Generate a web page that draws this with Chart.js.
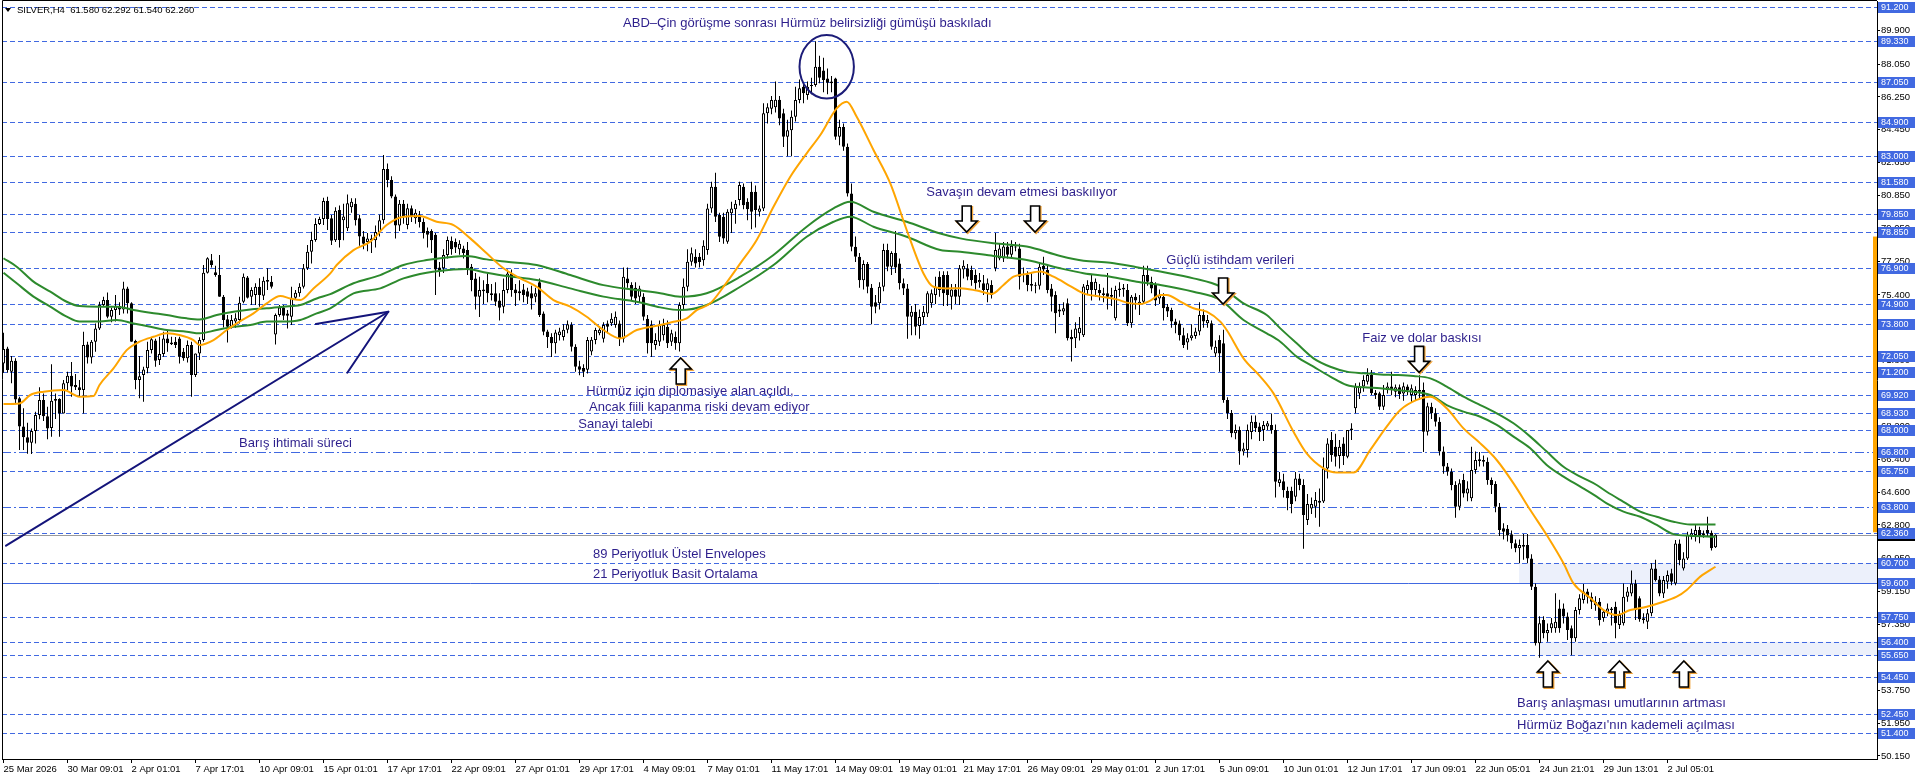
<!DOCTYPE html>
<html>
<head>
<meta charset="utf-8">
<script src="https://cdn.jsdelivr.net/npm/chart.js"></script>
<style>
  html, body { margin: 0; padding: 0; background: #fff; }
  #wrap { width: 1916px; height: 780px; }
</style>
</head>
<body>
<div id="wrap"><canvas id="silverChart" width="1916" height="780"></canvas></div>
<script>
// time axis labels, one every 16 H4 bars
const xLabels = ['25 Mar 2026', '30 Mar 09:01', '2 Apr 01:01', '7 Apr 17:01', '10 Apr 09:01', '15 Apr 01:01',
  '17 Apr 17:01', '22 Apr 09:01', '27 Apr 01:01', '29 Apr 17:01', '4 May 09:01', '7 May 01:01', '11 May 17:01',
  '14 May 09:01', '19 May 01:01', '21 May 17:01', '26 May 09:01', '29 May 01:01', '2 Jun 17:01', '5 Jun 09:01',
  '10 Jun 01:01', '12 Jun 17:01', '17 Jun 09:01', '22 Jun 05:01', '24 Jun 21:01', '29 Jun 13:01', '2 Jul 05:01'];

const yTicks = [89.9, 88.05, 86.25, 84.45, 82.65, 80.85, 79.05, 77.25, 75.4, 73.6, 71.8, 70.0, 68.2, 66.4,
  64.6, 62.8, 60.95, 59.15, 57.35, 55.55, 53.75, 51.95, 50.15];

// horizontal price levels drawn on the chart
const levels = [91.2, 89.33, 87.05, 84.9, 83.0, 81.58, 79.85, 78.85, 76.9, 74.9, 73.8, 72.05, 71.2, 69.92,
  68.93, 68.0, 66.8, 65.75, 63.8, 62.36, 60.7, 59.6, 57.75, 56.4, 55.65, 54.45, 52.45, 51.4];

// [open, high, low, close] per H4 bar, first bar 25 Mar 17:01
const candles = [
  [71.65,73.33,71.14,72.44],[72.47,72.57,71.14,71.29],[71.20,72.05,70.56,71.80],[71.80,71.93,69.46,69.68],[69.74,69.83,66.91,68.20],[68.20,69.20,66.91,67.60],[67.60,68.40,66.70,67.30],[67.31,68.09,66.69,67.95],
  [67.95,69.00,67.27,68.82],[68.82,70.34,68.59,69.65],[69.65,70.00,68.50,68.75],[68.75,69.28,67.49,68.09],[68.11,71.60,67.64,69.61],[69.61,70.00,68.60,69.70],[69.70,69.74,67.64,68.91],[68.91,70.74,68.91,70.56],
  [70.56,71.20,70.19,70.98],[70.98,71.73,69.83,70.38],[70.47,71.07,70.19,70.34],[70.34,70.74,69.83,70.19],[70.19,73.39,68.91,72.66],[72.69,72.84,71.65,71.98],[71.98,72.93,71.65,72.84],[72.84,73.84,72.29,73.57],
  [73.57,75.03,73.48,74.85],[74.85,75.30,74.76,75.12],[75.12,75.54,74.12,74.21],[74.21,74.70,73.90,74.58],[74.58,75.40,73.94,74.79],[74.79,75.00,74.30,74.60],[74.60,76.13,74.39,75.76],[75.76,75.85,74.39,74.94],
  [74.94,75.00,72.84,72.84],[72.88,72.95,70.23,70.74],[70.74,72.05,69.74,70.95],[71.01,71.47,69.55,71.32],[71.38,72.84,71.11,72.38],[72.38,73.08,72.20,72.97],[72.90,73.00,71.47,71.80],[71.84,73.11,71.56,72.16],
  [72.16,73.39,72.02,73.02],[73.02,73.48,72.29,72.75],[72.80,73.11,72.66,72.70],[72.84,73.10,72.50,72.66],[73.02,73.11,71.65,72.02],[72.29,72.50,71.80,71.93],[71.93,72.90,71.70,72.66],[72.66,72.84,69.83,71.01],
  [71.01,72.20,70.90,72.20],[72.20,73.08,71.84,72.93],[72.93,77.04,72.84,76.62],[76.62,77.46,76.58,77.41],[77.30,77.64,76.90,77.04],[76.64,77.00,76.40,76.49],[76.49,77.59,75.30,75.30],[75.30,75.40,73.62,74.03],
  [74.07,74.30,72.79,73.66],[73.66,74.30,73.57,74.03],[73.94,74.40,73.60,74.12],[74.03,75.30,73.84,74.98],[75.03,76.58,74.94,76.40],[76.36,76.44,75.21,75.25],[75.30,75.82,74.85,75.67],[75.40,76.04,74.85,75.85],
  [75.85,76.31,74.76,75.40],[75.36,76.40,75.12,76.18],[76.22,76.86,75.67,76.13],[76.13,76.44,75.76,75.85],[73.24,74.39,72.69,74.30],[74.30,74.85,74.21,74.72],[74.72,74.85,74.03,74.26],[74.39,74.58,73.57,74.26],
  [74.21,75.85,73.75,75.25],[75.25,75.67,75.12,75.52],[75.49,76.04,75.30,75.85],[75.85,77.09,75.76,76.86],[76.86,78.14,76.77,77.77],[77.77,78.87,77.13,78.41],[78.41,79.60,78.32,79.29],[79.29,79.69,79.23,79.56],
  [79.56,80.73,79.23,80.55],[80.55,80.78,78.96,79.56],[79.60,79.78,78.14,78.37],[78.40,80.20,78.30,80.02],[80.05,80.30,78.00,78.41],[79.50,80.40,78.40,79.70],[79.05,80.90,78.90,80.42],[80.20,80.70,79.90,80.50],
  [80.40,80.70,79.20,79.50],[79.60,79.80,78.10,78.60],[78.60,78.90,77.90,78.20],[78.30,78.80,77.80,78.50],[78.50,78.70,77.70,78.40],[78.40,79.20,78.00,78.85],[78.85,79.80,78.60,79.50],[79.50,83.07,79.30,82.30],
  [82.30,82.60,81.30,81.70],[81.70,81.90,80.70,80.80],[80.80,80.90,78.50,79.20],[79.20,80.60,78.90,80.40],[80.40,80.60,79.30,79.70],[79.23,80.40,79.00,80.15],[80.15,80.30,79.40,79.69],[79.60,80.10,79.30,79.90],
  [79.80,80.00,79.10,79.40],[79.40,79.60,78.50,78.80],[78.90,79.10,78.00,78.70],[78.90,79.00,77.70,78.40],[78.70,78.80,75.40,76.80],[76.90,77.20,76.40,76.70],[76.86,77.90,76.60,77.59],[77.59,78.60,77.40,78.41],
  [78.37,78.60,77.60,77.90],[78.30,78.50,77.70,78.00],[77.90,78.40,77.60,78.20],[77.95,78.10,77.40,77.70],[77.86,78.30,76.50,76.86],[76.95,77.10,75.60,76.22],[76.30,76.60,74.60,75.30],[75.30,76.40,74.20,75.67],
  [75.60,76.20,74.90,75.70],[76.00,76.60,75.00,75.50],[75.50,76.00,75.10,75.40],[75.50,76.10,74.80,75.03],[75.10,75.50,74.00,74.70],[74.76,76.30,74.40,75.67],[75.67,76.80,75.50,76.58],[76.58,76.80,75.30,75.67],
  [75.70,76.00,74.80,75.50],[75.50,76.20,75.10,75.60],[75.70,76.00,75.00,75.40],[75.60,75.80,74.90,75.30],[75.50,75.90,74.60,75.20],[75.30,75.80,75.00,75.50],[76.10,76.30,74.20,74.30],[74.39,74.50,73.20,73.39],
  [73.40,73.50,72.50,73.10],[73.10,73.30,72.00,72.75],[72.75,73.50,72.20,73.34],[73.20,73.60,72.90,73.40],[73.10,73.80,72.90,73.50],[73.50,74.00,73.30,73.80],[73.75,73.90,72.30,72.57],[72.57,72.70,71.20,71.47],
  [71.50,71.80,71.00,71.30],[71.40,71.60,70.90,71.20],[71.30,73.10,71.10,72.93],[72.30,73.10,72.10,72.95],[72.93,73.60,72.70,73.48],[73.30,73.70,73.20,73.50],[73.00,73.90,72.80,73.75],[73.84,74.00,73.30,73.66],
  [73.85,74.40,73.70,74.10],[73.75,74.50,73.60,74.21],[73.84,74.00,72.60,73.00],[73.00,76.90,72.80,76.40],[76.30,76.90,75.80,76.04],[75.95,76.10,75.10,75.30],[75.80,76.10,74.90,75.20],[75.30,75.90,75.00,75.76],
  [75.30,75.50,74.00,74.21],[74.10,74.30,72.20,72.75],[73.75,74.00,72.00,72.75],[72.66,73.30,72.40,72.93],[72.84,74.00,72.60,73.75],[73.20,74.10,72.90,73.75],[73.66,74.00,72.50,72.75],[72.84,73.50,72.60,73.30],
  [73.10,73.40,72.40,72.75],[72.75,75.00,72.30,74.85],[74.85,76.30,74.60,75.85],[75.85,77.90,75.60,77.22],[77.22,78.00,77.00,77.68],[77.50,77.90,76.90,77.13],[77.50,77.70,76.90,77.20],[77.30,78.40,77.00,78.10],
  [77.86,80.40,77.60,80.14],[80.14,81.60,79.90,81.33],[81.33,82.10,79.40,79.69],[79.78,79.90,78.30,78.59],[79.69,79.90,78.20,78.50],[78.32,80.10,78.20,79.96],[79.87,80.50,78.80,80.14],[80.10,80.60,79.30,80.40],
  [80.60,81.60,80.30,81.42],[81.33,81.50,80.10,80.32],[80.50,80.70,79.50,80.10],[81.06,81.60,79.00,79.96],[81.06,81.40,79.10,80.05],[79.96,80.30,79.70,80.14],[80.14,85.90,80.00,85.35],[85.35,85.90,84.80,85.68],
  [85.60,86.30,85.30,86.08],[85.68,87.10,85.40,86.10],[86.10,86.30,84.70,85.07],[85.35,85.60,83.50,84.07],[84.07,85.00,83.00,84.43],[84.43,85.50,83.00,85.16],[85.16,86.80,84.90,86.08],[86.08,87.20,85.90,86.72],
  [86.80,87.00,85.90,86.45],[86.35,87.10,86.10,86.80],[86.85,87.30,86.40,86.90],[86.90,89.30,86.80,87.90],[87.90,88.50,87.00,87.30],[87.70,88.40,86.50,87.17],[87.26,87.80,86.40,87.03],[87.00,87.40,86.50,87.10],
  [87.26,87.30,83.90,84.07],[84.07,85.00,83.60,84.60],[84.60,84.80,83.30,83.52],[83.52,83.70,80.80,80.96],[80.96,81.50,77.80,78.04],[78.04,78.60,77.20,77.50],[77.50,77.70,75.80,76.20],[76.20,77.30,75.70,77.10],
  [77.10,77.20,75.50,75.85],[75.80,76.00,73.80,74.75],[75.00,75.40,74.40,74.75],[74.94,76.10,74.60,75.85],[75.85,78.20,75.60,77.86],[77.86,78.20,76.70,76.95],[76.95,77.80,76.50,77.70],[77.70,78.90,76.60,76.90],
  [77.13,77.40,75.70,76.04],[76.04,76.30,75.40,75.76],[75.76,76.00,73.00,74.21],[74.21,74.80,73.20,74.48],[74.48,74.90,73.20,73.66],[73.70,74.60,73.00,74.20],[74.20,74.80,73.80,74.48],[74.39,75.60,74.20,75.49],
  [74.94,75.70,74.70,75.49],[75.40,76.40,74.90,75.85],[76.40,76.70,75.30,75.67],[76.50,76.70,74.80,75.49],[76.50,76.70,74.80,75.40],[75.30,76.00,74.60,75.70],[75.70,76.00,74.90,75.30],[75.30,77.04,74.85,76.86],
  [76.80,77.30,76.30,77.00],[76.86,77.10,76.20,76.40],[76.77,77.00,75.90,76.22],[76.50,76.80,75.70,76.04],[76.10,76.60,75.80,76.22],[76.04,76.50,75.40,75.67],[75.67,76.30,75.00,76.04],[75.95,76.20,75.20,75.40],
  [76.86,78.80,76.70,77.86],[77.40,78.20,77.30,77.95],[77.40,78.30,77.20,78.05],[78.05,78.30,77.40,77.60],[77.60,78.40,77.40,78.10],[78.00,78.30,77.80,78.05],[77.95,78.20,75.70,76.40],[76.50,76.90,76.10,76.50],
  [76.50,76.70,75.60,75.95],[76.00,76.60,75.60,75.90],[75.90,76.10,75.50,75.90],[75.90,77.20,75.70,76.95],[77.00,77.50,76.50,76.80],[76.77,77.00,75.50,75.67],[75.76,76.00,74.50,75.30],[75.40,75.60,73.30,74.40],
  [74.60,74.90,74.20,74.50],[74.50,75.00,74.30,74.67],[74.94,75.20,72.90,73.03],[73.10,73.50,71.75,72.97],[73.03,73.90,72.50,73.57],[73.30,74.20,72.90,73.60],[73.20,76.00,73.10,75.86],[75.67,76.20,75.40,75.95],
  [76.13,76.50,75.10,75.67],[75.67,76.30,75.30,76.13],[75.67,76.00,75.10,75.50],[75.50,75.80,75.00,75.40],[75.50,76.60,74.60,75.30],[75.30,75.80,74.80,75.40],[74.12,75.90,74.00,75.67],[75.67,76.10,75.30,75.76],
  [75.70,76.00,75.30,75.80],[75.67,76.00,73.70,73.85],[73.85,75.40,73.60,75.30],[75.30,75.50,74.60,75.10],[74.85,75.40,74.30,75.03],[75.03,77.00,74.90,76.50],[76.50,77.00,75.90,76.13],[76.13,76.40,75.50,75.76],
  [75.95,76.10,74.80,75.10],[75.20,75.70,74.90,75.40],[75.30,75.50,74.00,74.67],[74.76,74.90,74.20,74.50],[74.58,74.70,73.60,73.94],[73.94,74.10,73.30,73.75],[73.84,74.00,72.90,73.20],[73.20,73.60,72.50,72.66],
  [72.79,73.30,72.40,73.03],[73.03,73.80,72.90,73.20],[73.15,73.60,73.00,73.40],[73.40,75.00,73.20,74.30],[74.30,74.60,73.60,73.94],[73.85,74.30,73.60,74.03],[73.85,74.00,72.40,72.57],[72.20,72.90,72.00,72.57],
  [72.93,73.20,71.20,72.20],[72.75,73.50,69.50,69.65],[69.65,69.80,68.60,68.93],[68.93,69.10,67.60,67.82],[67.82,68.30,67.50,68.00],[68.00,68.20,66.10,66.82],[66.82,67.30,66.60,66.99],[66.91,68.30,66.50,68.00],
  [67.90,68.80,67.50,68.46],[68.46,68.80,67.90,68.10],[68.20,68.40,67.40,67.90],[68.00,68.50,67.40,68.28],[68.20,68.50,68.00,68.37],[68.28,68.90,67.80,68.00],[68.00,68.30,64.30,65.17],[65.10,65.70,64.90,65.30],
  [65.20,65.60,64.30,64.70],[64.68,64.90,63.60,64.26],[64.68,64.90,63.44,63.95],[64.35,65.70,64.10,65.35],[65.35,65.60,64.70,64.99],[64.99,65.30,61.50,63.35],[63.07,64.50,62.80,63.95],[63.70,64.30,63.40,63.95],
  [63.80,64.60,63.20,64.17],[64.02,64.80,62.70,64.13],[64.08,66.50,64.00,65.90],[65.90,67.55,65.35,67.27],[67.45,67.90,66.27,66.63],[67.09,67.80,66.00,66.54],[66.58,67.45,65.90,67.09],[67.27,67.60,66.09,66.58],
  [66.54,68.00,66.45,68.00],[68.00,68.37,67.45,68.09],[69.19,70.56,68.92,70.38],[70.00,70.60,69.70,70.38],[70.38,71.00,70.10,70.74],[70.65,71.38,70.50,71.02],[71.02,71.29,69.92,70.01],[70.05,70.20,69.70,69.92],
  [70.01,70.10,69.10,69.28],[69.28,70.47,69.10,69.92],[70.20,70.60,70.00,70.38],[70.38,71.20,69.90,70.20],[70.10,70.50,69.80,70.34],[70.34,70.50,69.70,69.98],[70.00,70.60,69.60,70.40],[70.38,70.50,69.90,70.20],
  [69.92,70.50,69.50,70.29],[69.92,70.40,69.60,70.20],[70.10,71.00,69.70,70.20],[70.20,70.60,66.80,67.91],[67.91,69.50,67.70,69.30],[69.28,69.50,68.60,68.92],[68.92,69.20,68.20,68.46],[68.46,68.70,66.60,66.82],
  [66.82,67.10,65.60,66.00],[66.00,66.20,65.50,65.72],[65.72,65.90,64.70,64.99],[64.99,65.20,63.20,63.80],[63.80,65.30,63.60,65.08],[65.26,65.60,64.30,64.53],[64.53,65.20,64.10,64.80],[64.26,67.09,64.10,65.81],
  [65.81,66.82,65.60,66.36],[66.30,66.80,66.00,66.40],[66.36,66.60,66.00,66.27],[66.27,66.50,65.00,65.26],[65.26,65.40,64.50,64.99],[65.04,65.20,63.50,63.80],[63.80,64.00,62.20,62.53],[62.62,62.90,62.00,62.43],
  [62.60,62.80,61.90,62.25],[62.29,62.50,61.50,61.80],[61.80,62.00,61.30,61.52],[61.52,62.00,60.70,61.70],[61.70,62.30,60.90,61.61],[61.70,62.30,60.70,60.97],[60.97,61.20,59.24,59.42],[59.42,59.60,56.20,56.32],
  [56.32,57.80,55.53,57.41],[57.60,57.80,56.60,56.87],[56.87,57.40,56.40,57.05],[57.14,57.70,56.90,57.41],[57.14,59.06,56.90,57.50],[58.23,58.70,56.90,57.14],[58.23,58.50,57.40,57.78],[57.78,58.00,56.50,57.05],
  [57.14,57.30,55.67,56.59],[56.59,58.30,56.40,58.14],[58.14,59.00,57.90,58.78],[58.69,59.56,58.50,59.15],[59.15,59.30,58.50,58.87],[58.87,59.10,58.20,58.60],[58.40,58.90,58.10,58.60],[58.60,58.80,57.30,57.60],
  [57.70,58.20,57.50,58.05],[58.05,58.50,57.80,58.23],[58.14,58.30,57.30,58.23],[58.32,58.60,56.60,57.41],[57.32,58.10,57.10,57.87],[57.41,59.60,57.30,58.87],[58.87,59.40,58.60,59.15],[59.05,60.30,58.90,59.60],
  [59.60,59.80,57.60,58.14],[58.78,58.90,57.50,57.63],[57.69,57.96,57.40,57.60],[57.50,58.20,57.10,57.96],[57.96,60.70,57.80,60.42],[60.42,60.90,59.70,59.78],[59.82,60.00,58.90,59.05],[59.05,60.00,58.80,59.78],
  [59.69,60.30,59.30,60.06],[60.15,60.40,59.50,59.69],[59.60,61.98,59.50,61.79],[61.79,62.00,60.60,60.88],[60.42,61.30,60.30,60.97],[60.97,62.43,60.88,62.25],[62.16,62.60,62.00,62.34],[62.25,62.80,61.90,62.52],
  [62.52,62.70,61.80,62.16],[62.25,62.50,62.10,62.34],[62.52,63.25,62.20,62.34],[62.38,62.50,61.40,61.52],[61.58,62.292,61.54,62.26]
];

// indicator lines: [bar index, price]
const sma21 = [[0,69.43],[4,69.46],[6.7,69.92],[10,70.1],[15,70.19],[19,69.83],[22.5,69.86],[24,70.47],[27.5,71.38],
  [30.8,72.38],[34,72.84],[37.5,73.11],[40.8,73.3],[44,73.21],[47.5,72.93],[49,72.66],[52.5,72.93],[55.8,73.48],
  [59,73.94],[62.5,74.39],[65.8,74.94],[69.2,75.34],[71.7,75.21],[74.2,75.12],[77.5,75.76],[81.7,76.58],[83.3,77.04],
  [87.5,77.86],[91.7,78.32],[95.8,79.23],[100,79.69],[104,79.72],[108.3,79.41],[112.5,79.23],[116.7,78.5],[120.8,77.68],
  [125,76.86],[129.2,76.31],[133.3,75.85],[137.5,75.12],[141.7,74.76],[145.8,74.21],[150,73.48],[154.2,73.02],
  [158.3,73.48],[164.2,73.75],[167.5,73.93],[170.8,74.12],[173.3,74.57],[176.7,74.94],[180,75.85],[184.2,77.13],
  [188.3,78.41],[192.5,80.23],[196.7,81.88],[200.8,83.16],[204.2,84.16],[208.3,85.62],[210.8,85.99],[213.3,85.16],
  [217.5,83.34],[221.7,81.51],[225.8,78.96],[230,76.58],[232.5,75.85],[235.8,75.76],[239.2,75.77],[243.3,75.64],
  [247.1,75.46],[250,75.95],[252.5,76.4],[255.8,76.55],[259.2,76.68],[262.5,76.4],[266.7,75.89],[270,75.49],
  [274.2,75.31],[278.3,75.16],[280.8,74.98],[284.2,74.91],[286.7,75.09],[289.2,75.4],[290.8,75.4],[294.2,75.04],
  [297.5,74.67],[300.8,74.49],[304.2,73.94],[305.8,73.48],[310,71.93],[314.2,70.93],[317.5,70.01],[322.5,67.91],
  [325.8,66.72],[330,65.9],[333.3,65.67],[337.5,65.67],[341.7,66.91],[345.8,68.19],[349.2,69.1],[353.3,69.65],
  [356.7,69.83],[360.8,69.19],[365,68.09],[369.2,67.27],[373.3,66.36],[377.5,65.08],[381.7,63.62],[385.8,62.25],
  [390,60.7],[392.5,59.6],[396.7,58.8],[400,58.14],[403.3,57.87],[406.7,58.14],[410.8,58.32],[414.2,58.54],
  [418.3,58.87],[420.8,59.24],[424.2,59.97],[428,60.51]];

const envUpper = [[0,77.41],[3.3,76.95],[7.5,76.13],[11.7,75.58],[15.8,75.03],[19,74.79],[24,74.76],[28.3,74.76],
  [32.5,74.58],[36.7,74.43],[40.8,74.3],[45.8,74.12],[49,74.06],[53.3,74.3],[57.5,74.48],[61.7,74.61],[65.8,74.67],
  [70,74.76],[74.2,74.85],[78.3,75.21],[81.7,75.45],[87.5,76.04],[94.2,76.49],[100,77.04],[105.8,77.31],[112.5,77.5],
  [115.8,77.53],[120.8,77.35],[125.8,77.22],[133.3,77.04],[141.7,76.49],[150,75.94],[158.3,75.67],[164.2,75.49],
  [169.2,75.3],[175.8,75.49],[184.2,76.4],[192.5,77.59],[200.8,79.14],[207.5,80.14],[211.7,80.51],[217.5,79.96],
  [225.8,79.41],[234.2,78.77],[239.2,78.5],[247.5,78.23],[255.8,78.05],[264.2,77.54],[270,77.28],[276.7,77.17],
  [283.3,76.92],[289.2,76.68],[297.5,76.31],[304.2,75.86],[310,74.94],[315.8,74.3],[319.2,73.57],[323.3,72.75],
  [327.5,71.93],[331.7,71.47],[335.8,71.2],[340,71.11],[344.2,71.05],[348.3,71.02],[352.5,70.96],[356.7,70.83],
  [360.8,70.38],[365,69.83],[369.2,69.37],[373.3,68.92],[377.5,68.37],[381.7,67.64],[385.8,66.82],[390,65.99],
  [394.2,65.45],[398.3,64.99],[400.8,64.62],[405,64.07],[409.2,63.53],[413.3,63.25],[417.5,62.98],[421.7,62.83],[428,62.83]];

const envLower = [[0,76.62],[3.3,76.04],[7.5,75.31],[11.7,74.76],[15.8,74.21],[19,73.94],[24,73.94],[28.3,74.03],
  [32.5,73.84],[36.7,73.66],[40.8,73.48],[45.8,73.39],[49,73.3],[53.3,73.48],[57.5,73.66],[61.7,73.75],[65.8,73.94],
  [70,73.94],[74.2,74.03],[78.3,74.39],[81.7,74.67],[87.5,75.49],[94.2,75.76],[100,76.31],[105.8,76.62],[112.5,76.8],
  [115.8,76.82],[120.8,76.62],[125.8,76.44],[133.3,76.22],[141.7,75.76],[150,75.31],[158.3,75.03],[164.2,74.72],
  [169.2,74.57],[175.8,74.85],[184.2,75.85],[192.5,77.04],[200.8,78.59],[207.5,79.41],[211.7,79.69],[217.5,79.14],
  [225.8,78.59],[234.2,77.86],[239.2,77.77],[247.5,77.54],[255.8,77.32],[264.2,76.86],[270,76.59],[276.7,76.4],
  [283.3,76.13],[289.2,75.95],[297.5,75.58],[304.2,75.13],[310,74.03],[315.8,73.3],[319.2,72.84],[323.3,72.02],
  [327.5,71.47],[331.7,70.93],[335.8,70.47],[340,70.34],[344.2,70.29],[348.3,70.19],[352.5,70.1],[356.7,69.92],
  [360.8,69.37],[365,69.01],[369.2,68.73],[373.3,68.28],[377.5,67.64],[381.7,67.0],[385.8,66.09],[390,65.45],
  [394.2,64.9],[398.3,64.35],[400.8,63.98],[405,63.53],[409.2,63.25],[413.3,62.8],[417.5,62.3],[421.7,62.21],[428,62.16]];

// drawn objects, positioned in [bar index, price]
const zones = [[60.7, 59.6, 378.9], [56.4, 55.65, 384.1]]; // top, bottom, first bar
const trendLine = [[0.63, 61.67], [96.2, 74.48]];
const trendWings = [[78.1, 73.81], [85.95, 71.14]];
const circle = [205.8, 87.9, 6.8, 1.74]; // centre bar, centre price, radius bars, radius price
const arrowsDown = [[240.8, 78.85], [257.9, 78.85], [304.9, 74.905], [353.9, 71.16]];
const arrowsUp = [[169.3, 71.95], [386.1, 55.35], [404.0, 55.35], [420.1, 55.35]];
const rangeBar = [62.4, 78.6];
const notes = [
  ['ABD–Çin görüşme sonrası Hürmüz belirsizliği gümüşü baskıladı', 154.9, 90.30],
  ['Savaşın devam etmesi baskılıyor', 230.7, 81.04],
  ['Güçlü istihdam verileri', 290.7, 77.32],
  ['Faiz ve dolar baskısı', 339.7, 73.04],
  ['Hürmüz için diplomasiye alan açıldı,', 145.7, 70.14],
  ['Ancak fiili kapanma riski devam ediyor', 146.4, 69.26],
  ['Sanayi talebi', 143.7, 68.33],
  ['Barış ihtimali süreci', 58.9, 67.29],
  ['89 Periyotluk Üstel Envelopes', 147.4, 61.21],
  ['21 Periyotluk Basit Ortalama', 147.4, 60.11],
  ['Barış anlaşması umutlarının artması', 378.4, 53.05],
  ["Hürmüz Boğazı'nın kademeli açılması", 378.4, 51.84]
];

const AXIS_FONT = '9px "Liberation Sans", Arial, sans-serif';

function thumbArrow(ctx, cx, tipY, s) { // s = 1 points up, s = -1 points down
  const pts = [[0, 0], [10.5, 11], [4.5, 11], [4.5, 26], [-4.5, 26], [-4.5, 11], [-10.5, 11]];
  const path = (ox, oy) => {
    ctx.beginPath();
    pts.forEach(([dx, dy], k) => {
      const px = cx + dx + ox, py = tipY + s * dy + oy;
      if (k) ctx.lineTo(px, py); else ctx.moveTo(px, py);
    });
    ctx.closePath();
  };
  path(1, 1);
  ctx.strokeStyle = '#f0a33a'; ctx.lineWidth = 2; ctx.stroke();
  path(0, 0);
  ctx.fillStyle = '#fff'; ctx.fill();
  ctx.strokeStyle = '#000'; ctx.lineWidth = 1.6; ctx.stroke();
}

const drawings = {
  id: 'drawings',
  beforeDatasetsDraw(chart) {
    const { ctx, chartArea: a, scales: { x, y } } = chart;
    ctx.save();
    ctx.beginPath();
    ctx.rect(a.left, a.top, a.right - a.left, a.bottom - a.top);
    ctx.clip();
    ctx.fillStyle = '#ecf0fb';
    zones.forEach(([hi, lo, from]) => {
      const x0 = x.getPixelForValue(from), y0 = y.getPixelForValue(hi);
      ctx.fillRect(x0, y0, a.right - x0, y.getPixelForValue(lo) - y0);
    });
    ctx.lineWidth = 1;
    ctx.strokeStyle = '#4169e1';
    levels.forEach(v => {
      const py = Math.round(y.getPixelForValue(v)) + 0.5;
      ctx.setLineDash(v === 59.6 ? [] : (v === 66.8 || v === 63.8) ? [9, 3, 2, 3] : [5, 3]);
      ctx.beginPath(); ctx.moveTo(a.left, py); ctx.lineTo(a.right, py); ctx.stroke();
    });
    ctx.setLineDash([]);
    const bid = Math.round(y.getPixelForValue(candles[candles.length - 1][3])) + 0.5;
    ctx.strokeStyle = '#9a9a9a';
    ctx.beginPath(); ctx.moveTo(a.left, bid); ctx.lineTo(a.right, bid); ctx.stroke();
    ctx.restore();
  },
  afterDatasetsDraw(chart) {
    const { ctx, chartArea: a, scales: { x, y } } = chart;
    const px = i => x.getPixelForValue(i), py = p => y.getPixelForValue(p);
    ctx.save();
    ctx.beginPath();
    ctx.rect(a.left, a.top, a.right - a.left, a.bottom - a.top);
    ctx.clip();
    // trend line with arrow head
    ctx.strokeStyle = '#14147a'; ctx.lineWidth = 2; ctx.lineCap = 'round';
    const [t0, t1] = trendLine;
    ctx.beginPath(); ctx.moveTo(px(t0[0]), py(t0[1])); ctx.lineTo(px(t1[0]), py(t1[1])); ctx.stroke();
    trendWings.forEach(([i, p]) => {
      ctx.beginPath(); ctx.moveTo(px(i), py(p)); ctx.lineTo(px(t1[0]), py(t1[1])); ctx.stroke();
    });
    // ellipse around the top
    const [ci, cp, ri, rp] = circle;
    ctx.strokeStyle = '#1c1c78'; ctx.lineWidth = 2;
    ctx.beginPath();
    ctx.ellipse(px(ci), py(cp), px(ci + ri) - px(ci), py(cp) - py(cp + rp), 0, 0, Math.PI * 2);
    ctx.stroke();
    // arrows
    ctx.lineJoin = 'miter';
    arrowsDown.forEach(([i, p]) => thumbArrow(ctx, px(i), py(p), -1));
    arrowsUp.forEach(([i, p]) => thumbArrow(ctx, px(i), py(p), 1));
    // text notes
    ctx.font = '13px "Liberation Sans", Arial, sans-serif';
    ctx.fillStyle = '#2d1f8c';
    ctx.textBaseline = 'middle';
    ctx.textAlign = 'left';
    notes.forEach(([t, i, p]) => ctx.fillText(t, px(i), py(p)));
    ctx.restore();
  },
  afterDraw(chart) {
    const { ctx, chartArea: a, scales: { y } } = chart;
    ctx.save();
    // frame
    ctx.strokeStyle = '#000'; ctx.lineWidth = 1;
    ctx.beginPath(); ctx.moveTo(a.left + 0.5, a.bottom); ctx.lineTo(a.left + 0.5, 0.5); ctx.lineTo(a.right, 0.5); ctx.stroke();
    // range bar on the price axis
    const yt = y.getPixelForValue(rangeBar[1]), yb = y.getPixelForValue(rangeBar[0]);
    ctx.fillStyle = '#ffa500';
    ctx.fillRect(a.right - 4, yt, 4, yb - yt);
    // price tags
    ctx.font = AXIS_FONT;
    ctx.textBaseline = 'middle';
    const last = candles[candles.length - 1];
    const by = Math.round(y.getPixelForValue(last[3]));
    ctx.fillStyle = '#000';
    ctx.fillRect(a.right + 1, by - 5, 37, 11);
    ctx.fillStyle = '#fff';
    ctx.fillText(last[3].toFixed(3), a.right + 4, by + 0.5);
    levels.forEach(v => {
      const ly = Math.round(y.getPixelForValue(v));
      ctx.fillStyle = '#4169e1';
      ctx.fillRect(a.right + 1, ly - 5, 37, 11);
      ctx.fillStyle = '#fff';
      ctx.fillText(v.toFixed(3), a.right + 4, ly + 0.5);
    });
    // symbol header
    ctx.fillStyle = '#000';
    ctx.beginPath(); ctx.moveTo(5, 8); ctx.lineTo(11, 8); ctx.lineTo(8, 12); ctx.closePath(); ctx.fill();
    ctx.font = '9.5px "Liberation Sans", Arial, sans-serif';
    ctx.fillText('SILVER,H4  ' + last.map(v => v.toFixed(3)).join(' '), 17, 10.5);
    ctx.restore();
  }
};

const ctx = document.getElementById('silverChart').getContext('2d');

new Chart(ctx, {
  type: 'bar',
  data: {
    datasets: [
      {
        type: 'line', label: 'SMA 21', order: 0,
        data: sma21.map(([x, y]) => ({ x, y })),
        borderColor: '#ffa500', borderWidth: 2, pointRadius: 0, cubicInterpolationMode: 'monotone'
      },
      {
        type: 'line', label: 'Envelope up', order: 1,
        data: envUpper.map(([x, y]) => ({ x, y })),
        borderColor: '#2d8a2d', borderWidth: 2, pointRadius: 0, cubicInterpolationMode: 'monotone'
      },
      {
        type: 'line', label: 'Envelope down', order: 1,
        data: envLower.map(([x, y]) => ({ x, y })),
        borderColor: '#2d8a2d', borderWidth: 2, pointRadius: 0, cubicInterpolationMode: 'monotone'
      },
      {
        label: 'Body', order: 2, grouped: false,
        data: candles.map(([o, h, l, c], i) => ({ x: i, y: [o, c] })),
        backgroundColor: candles.map(([o, h, l, c]) => (c >= o ? '#ffffff' : '#000000')),
        borderColor: '#000', borderWidth: 1, borderSkipped: false,
        barThickness: 3, minBarLength: 1, inflateAmount: 0
      },
      {
        label: 'Wick', order: 3, grouped: false,
        data: candles.map(([o, h, l, c], i) => ({ x: i, y: [l, h] })),
        backgroundColor: '#000', borderWidth: 0,
        barThickness: 1, inflateAmount: 0
      }
    ]
  },
  options: {
    responsive: false,
    animation: false,
    devicePixelRatio: 1,
    events: [],
    layout: { padding: { left: 2, top: 1, right: 0, bottom: 0 } },
    plugins: { legend: { display: false }, tooltip: { enabled: false } },
    scales: {
      x: {
        type: 'linear', position: 'bottom', min: -0.375, max: 468.375, offset: false,
        grid: { drawOnChartArea: false, drawTicks: true, tickLength: 4, color: '#000', offset: false },
        border: { color: '#000', width: 1 },
        ticks: {
          autoSkip: false, maxRotation: 0, minRotation: 0, align: 'start', padding: 1,
          color: '#000', font: { family: '"Liberation Sans", Arial, sans-serif', size: 9.5 },
          callback: v => xLabels[Math.round(v / 16)]
        },
        afterBuildTicks: s => { s.ticks = xLabels.map((_, k) => ({ value: k * 16 })); },
        afterFit: s => { s.height = 21; s.paddingLeft = 0; s.paddingRight = 0; }
      },
      y: {
        type: 'linear', position: 'right', min: 49.98, max: 91.504,
        grid: { drawOnChartArea: false, drawTicks: true, tickLength: 3, color: '#000' },
        border: { color: '#000', width: 1 },
        ticks: {
          autoSkip: false, padding: 1, color: '#000',
          font: { family: '"Liberation Sans", Arial, sans-serif', size: 9.5 },
          callback: v => v.toFixed(3)
        },
        afterBuildTicks: s => { s.ticks = yTicks.map(v => ({ value: v })); },
        afterFit: s => { s.width = 39; s.paddingTop = 0; s.paddingBottom = 0; }
      }
    }
  },
  plugins: [drawings]
});
</script>
</body>
</html>
